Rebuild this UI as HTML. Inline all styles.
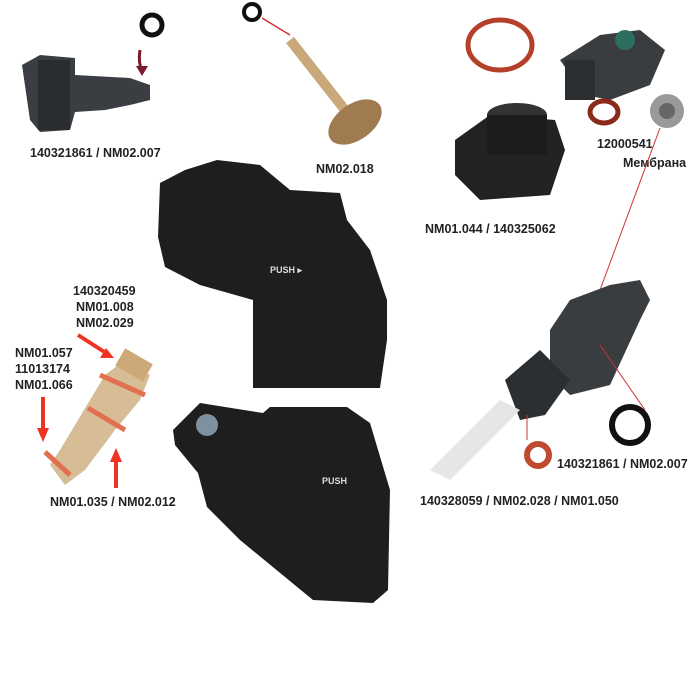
<!DOCTYPE html>
<html><head><meta charset="utf-8"><style>
html,body{margin:0;padding:0;background:#fff;width:700px;height:700px;overflow:hidden}
svg{display:block}
text{font-family:"Liberation Sans",sans-serif;font-weight:bold;font-size:12.5px;fill:#222}
</style></head><body>
<svg width="700" height="700" viewBox="0 0 700 700">
<!-- top-left connector -->
<polygon points="22,65 40,55 75,58 75,75 130,78 150,85 150,100 130,105 105,110 75,112 70,130 40,132 30,120" fill="#3a3e42"/>
<rect x="38" y="60" width="32" height="70" fill="#2a2d30"/>
<circle cx="152" cy="25" r="10" fill="none" stroke="#111" stroke-width="5"/>
<path d="M140,50 Q138,62 142,72" stroke="#7a1a2a" stroke-width="3" fill="none"/>
<polygon points="136,66 148,66 142,76" fill="#7a1a2a"/>
<text x="30" y="157">140321861 / NM02.007</text>
<!-- piston -->
<circle cx="252" cy="12" r="8" fill="none" stroke="#111" stroke-width="4"/>
<line x1="262" y1="18" x2="290" y2="35" stroke="#c33" stroke-width="1.5"/>
<line x1="290" y1="40" x2="345" y2="110" stroke="#c9a97a" stroke-width="10"/>
<ellipse cx="355" cy="122" rx="30" ry="18" fill="#a07a50" transform="rotate(-35 355 122)"/>
<text x="316" y="173">NM02.018</text>
<!-- orange ring -->
<ellipse cx="500" cy="45" rx="32" ry="25" fill="none" stroke="#b5402a" stroke-width="5"/>
<!-- black cylinder part -->
<polygon points="455,140 490,115 555,120 565,150 550,195 480,200 455,175" fill="#222"/>
<ellipse cx="517" cy="115" rx="30" ry="12" fill="#333"/>
<rect x="487" y="115" width="60" height="40" fill="#1c1c1c"/>
<text x="425" y="233">NM01.044 / 140325062</text>
<!-- top-right valve -->
<polygon points="560,60 600,35 640,30 665,50 650,85 610,100 585,95" fill="#3a3d40"/>
<rect x="565" y="60" width="30" height="40" fill="#2c2f32"/>
<circle cx="625" cy="40" r="10" fill="#2d6e60"/>
<ellipse cx="604" cy="112" rx="14" ry="11" fill="none" stroke="#8a2a1a" stroke-width="5"/>
<circle cx="667" cy="111" r="17" fill="#999"/>
<circle cx="667" cy="111" r="8" fill="#666"/>
<text x="597" y="148">12000541</text>
<text x="623" y="167">Мембрана</text>
<line x1="660" y1="128" x2="600" y2="290" stroke="#c33" stroke-width="1"/>
<!-- main block top -->
<polygon points="160,183 185,170 217,160 260,165 290,190 340,193 347,220 370,250 387,300 387,340 380,388 253,388 253,300 200,285 165,267 158,237" fill="#1e1e1e"/>
<text x="270" y="273" style="font-size:9px;fill:#ddd">PUSH ▸</text>
<!-- main block bottom -->
<polygon points="173,430 200,403 263,413 270,407 347,407 370,423 390,490 388,590 373,603 313,600 240,540 207,507 198,473 175,445" fill="#1e1e1e"/>
<circle cx="207" cy="425" r="11" fill="#7f909f"/>
<text x="322" y="484" style="font-size:9px;fill:#ddd">PUSH</text>
<!-- fitting -->
<polygon points="50,465 60,450 90,400 105,375 125,360 150,375 140,400 115,430 85,470 65,485" fill="#d7bd96"/>
<line x1="100" y1="375" x2="145" y2="395" stroke="#e07050" stroke-width="5"/>
<line x1="88" y1="408" x2="125" y2="430" stroke="#e07050" stroke-width="5"/>
<line x1="45" y1="452" x2="70" y2="475" stroke="#e07050" stroke-width="5"/>
<rect x="118" y="355" width="32" height="20" fill="#cda97a" transform="rotate(30 134 365)"/>
<!-- arrows -->
<g stroke="#e32" stroke-width="4" fill="#e32">
<line x1="78" y1="335" x2="106" y2="353"/><polygon points="114,358 100,358 106,348" stroke="none"/>
<line x1="43" y1="397" x2="43" y2="430"/><polygon points="37,428 49,428 43,442" stroke="none"/>
<line x1="116" y1="488" x2="116" y2="460"/><polygon points="110,462 122,462 116,448" stroke="none"/>
</g>
<text x="73" y="295">140320459</text>
<text x="76" y="311">NM01.008</text>
<text x="76" y="327">NM02.029</text>
<text x="15" y="357">NM01.057</text>
<text x="15" y="373">11013174</text>
<text x="15" y="389">NM01.066</text>
<text x="50" y="506">NM01.035 / NM02.012</text>
<!-- right valve -->
<polygon points="550,330 570,300 610,285 640,280 650,300 640,320 610,385 570,395 550,375" fill="#3a3d40"/>
<polygon points="505,380 540,350 570,380 545,415 520,420" fill="#2c2f32"/>
<polygon points="430,470 500,400 520,410 450,480" fill="#e6e6e6"/>
<circle cx="630" cy="425" r="18" fill="none" stroke="#111" stroke-width="6"/>
<circle cx="538" cy="455" r="11" fill="none" stroke="#c04a30" stroke-width="6"/>
<line x1="600" y1="345" x2="645" y2="410" stroke="#c33" stroke-width="1"/>
<line x1="527" y1="415" x2="527" y2="440" stroke="#c33" stroke-width="1"/>
<text x="557" y="468">140321861 / NM02.007</text>
<text x="420" y="505">140328059 / NM02.028 / NM01.050</text>
</svg>
</body></html>
